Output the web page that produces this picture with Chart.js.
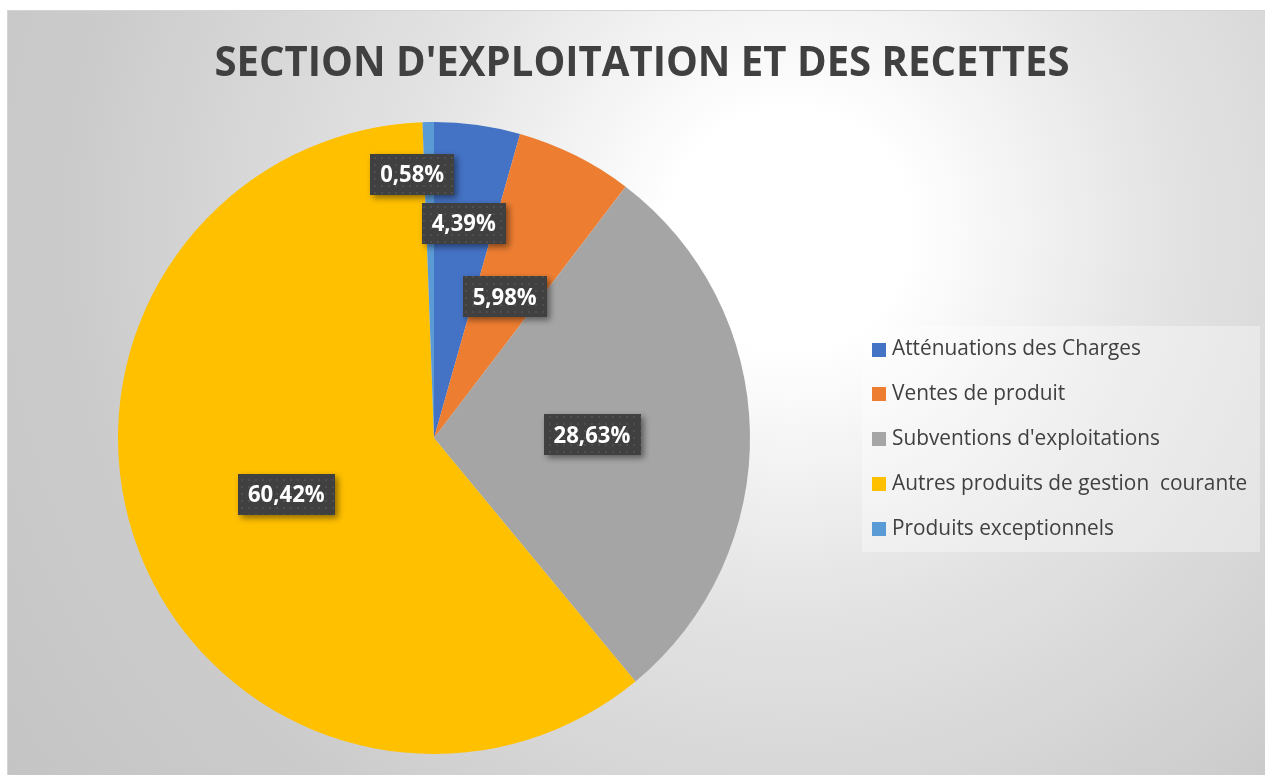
<!DOCTYPE html>
<html>
<head>
<meta charset="utf-8">
<script src="https://cdn.jsdelivr.net/npm/chart.js@4"></script>
<style>
  html, body { margin: 0; padding: 0; background: #fff; }
  #wrap { width: 1265px; height: 775px; }
</style>
</head>
<body>
<div id="wrap"><canvas id="pieChart"></canvas></div>
<script>
const titleText = "SECTION D'EXPLOITATION ET DES RECETTES";
const categories = [
  "Atténuations des Charges",
  "Ventes de produit",
  "Subventions d'exploitations",
  "Autres produits de gestion  courante",
  "Produits exceptionnels",
];
const shares = [4.39, 5.98, 28.63, 60.42, 0.58];
const colors = ["#4472C4", "#ED7D31", "#A5A5A5", "#FFC000", "#5B9BD5"];

// label placement tweaks for the thin slices (radius fraction, x nudge)
const labelPlace = [{ r: 0.685, dx: 0 }, {}, {}, {}, { r: 0.835, dx: -17 }];

function fmt(v) {
  return v.toFixed(2).replace(".", ",") + "%";
}

function dotPattern(ctx) {
  const c = document.createElement("canvas");
  c.width = 7;
  c.height = 7;
  const p = c.getContext("2d");
  p.fillStyle = "#404040";
  p.fillRect(0, 0, 7, 7);
  p.fillStyle = "#4f4f4f";
  p.fillRect(3, 3, 2, 2);
  return ctx.createPattern(c, "repeat");
}

// draw text squeezed horizontally to a target width (narrow Calibri look)
function squeezedText(ctx, txt, x, y, width) {
  const w = ctx.measureText(txt).width;
  const k = Math.min(1, width / w);
  ctx.save();
  ctx.translate(x, y);
  ctx.scale(k, 1);
  ctx.fillText(txt, 0, 0);
  ctx.restore();
}

const backdrop = {
  id: "backdrop",
  beforeDraw(chart) {
    const ctx = chart.ctx;
    ctx.save();
    ctx.fillStyle = "#ffffff";
    ctx.fillRect(0, 0, chart.width, chart.height);
    const g = ctx.createRadialGradient(790, 230, 0, 790, 230, 1000);
    g.addColorStop(0, "#ffffff");
    g.addColorStop(0.12, "#ffffff");
    g.addColorStop(0.38, "#e3e3e3");
    g.addColorStop(0.72, "#cbcbcb");
    g.addColorStop(1, "#c3c3c3");
    ctx.fillStyle = g;
    ctx.fillRect(7, 10, chart.width - 7, chart.height - 10);
    ctx.strokeStyle = "#d4d4d4";
    ctx.lineWidth = 1;
    ctx.strokeRect(7.5, 10.5, chart.width, chart.height);
    ctx.restore();
  },
};

const decorations = {
  id: "decorations",
  afterDraw(chart) {
    const ctx = chart.ctx;
    ctx.save();

    // title
    ctx.font = "bold 42px 'Open Sans'";
    ctx.fillStyle = "#404040";
    ctx.textAlign = "center";
    ctx.textBaseline = "alphabetic";
    squeezedText(ctx, titleText, 642, 76, 855);

    // data labels
    const meta = chart.getDatasetMeta(0);
    const pat = dotPattern(ctx);
    ctx.font = "bold 24px 'Open Sans'";
    ctx.textBaseline = "middle";
    meta.data.forEach((arc, i) => {
      const p = arc.getProps(["x", "y", "startAngle", "endAngle", "outerRadius"], true);
      const mid = (p.startAngle + p.endAngle) / 2;
      const place = labelPlace[i] || {};
      const rf = place.r || 0.5;
      const cx = p.x + Math.cos(mid) * p.outerRadius * rf + (place.dx || 0);
      const cy = p.y + Math.sin(mid) * p.outerRadius * rf;
      const txt = fmt(shares[i]);
      const tw = txt.length * 12.8;
      const w = tw + 20;
      const h = 41;
      ctx.save();
      ctx.shadowColor = "rgba(0,0,0,0.45)";
      ctx.shadowBlur = 6;
      ctx.shadowOffsetX = 3;
      ctx.shadowOffsetY = 3;
      ctx.fillStyle = pat;
      ctx.fillRect(Math.round(cx - w / 2), Math.round(cy - h / 2), Math.round(w), h);
      ctx.restore();
      ctx.fillStyle = "#ffffff";
      ctx.textAlign = "center";
      squeezedText(ctx, txt, cx, cy + 1, tw);
    });

    // legend
    ctx.fillStyle = "rgba(255,255,255,0.35)";
    ctx.fillRect(862, 326, 398, 226);
    ctx.font = "21px 'Open Sans'";
    const k = Math.min(1, 249 / ctx.measureText(categories[0]).width);
    ctx.textAlign = "left";
    ctx.textBaseline = "middle";
    categories.forEach((name, i) => {
      const y = 349.5 + i * 44.8;
      ctx.fillStyle = colors[i];
      ctx.fillRect(872, Math.round(y - 7), 14, 14);
      ctx.fillStyle = "#404040";
      squeezedText(ctx, name, 892, y, ctx.measureText(name).width * k);
    });

    ctx.restore();
  },
};

new Chart(document.getElementById("pieChart"), {
  type: "pie",
  data: {
    labels: categories,
    datasets: [
      {
        data: shares,
        backgroundColor: colors,
        borderWidth: 0,
      },
    ],
  },
  options: {
    responsive: true,
    maintainAspectRatio: false,
    animation: false,
    events: [],
    layout: {
      padding: { left: 118, right: 515, top: 122, bottom: 21 },
    },
    plugins: {
      legend: { display: false },
      title: { display: false },
      tooltip: { enabled: false },
    },
  },
  plugins: [backdrop, decorations],
});
</script>
</body>
</html>
